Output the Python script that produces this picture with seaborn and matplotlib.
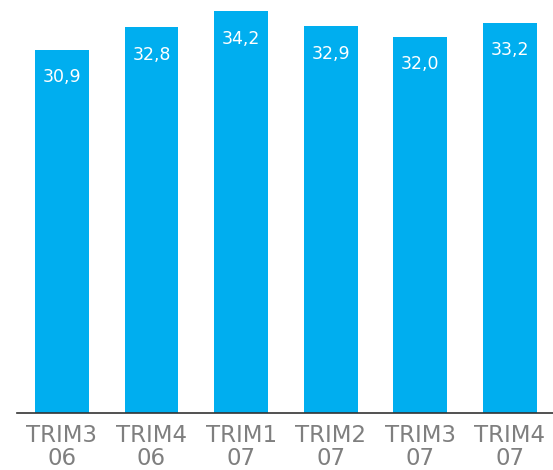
import matplotlib
matplotlib.use("Agg")
import matplotlib.pyplot as plt
import seaborn as sns
import pandas as pd

categories = ["TRIM3\n06", "TRIM4\n06", "TRIM1\n07", "TRIM2\n07", "TRIM3\n07", "TRIM4\n07"]
values = [30.9, 32.8, 34.2, 32.9, 32.0, 33.2]
value_labels = ["30,9", "32,8", "34,2", "32,9", "32,0", "33,2"]

df = pd.DataFrame({"cat": categories, "val": values})

sns.set_theme(style="white")
plt.rcParams["font.family"] = ["DejaVu Sans"]

fig = plt.figure(figsize=(5.53, 4.70), dpi=100)
W, H = 553, 470
ax = fig.add_axes([17 / W, (H - 412.5) / H, (553 - 17) / W, 412.5 / H])

sns.barplot(data=df, x="cat", y="val", color="#00AEEF", saturation=1, width=0.6, ax=ax)
for p in ax.patches:
    p.set_edgecolor("none")

ax.set_xlim(-0.5, 5.48)
ax.set_ylim(0, 35.14)
ax.set_xlabel("")
ax.set_ylabel("")
ax.set_yticks([])
for s in ["top", "left", "right"]:
    ax.spines[s].set_visible(False)
ax.spines["bottom"].set_color("#333333")
ax.spines["bottom"].set_linewidth(1.2)
ax.tick_params(axis="x", length=0, pad=8, labelsize=16.5, colors="#7f7f7f")
for t in ax.get_xticklabels():
    t.set_linespacing(1.0)

for i, (v, lab) in enumerate(zip(values, value_labels)):
    ax.annotate(lab, xy=(i, v), xytext=(0, -19.8), textcoords="offset points",
                ha="center", va="center", color="white", fontsize=12.5)

fig.savefig("out.png", dpi=100)
